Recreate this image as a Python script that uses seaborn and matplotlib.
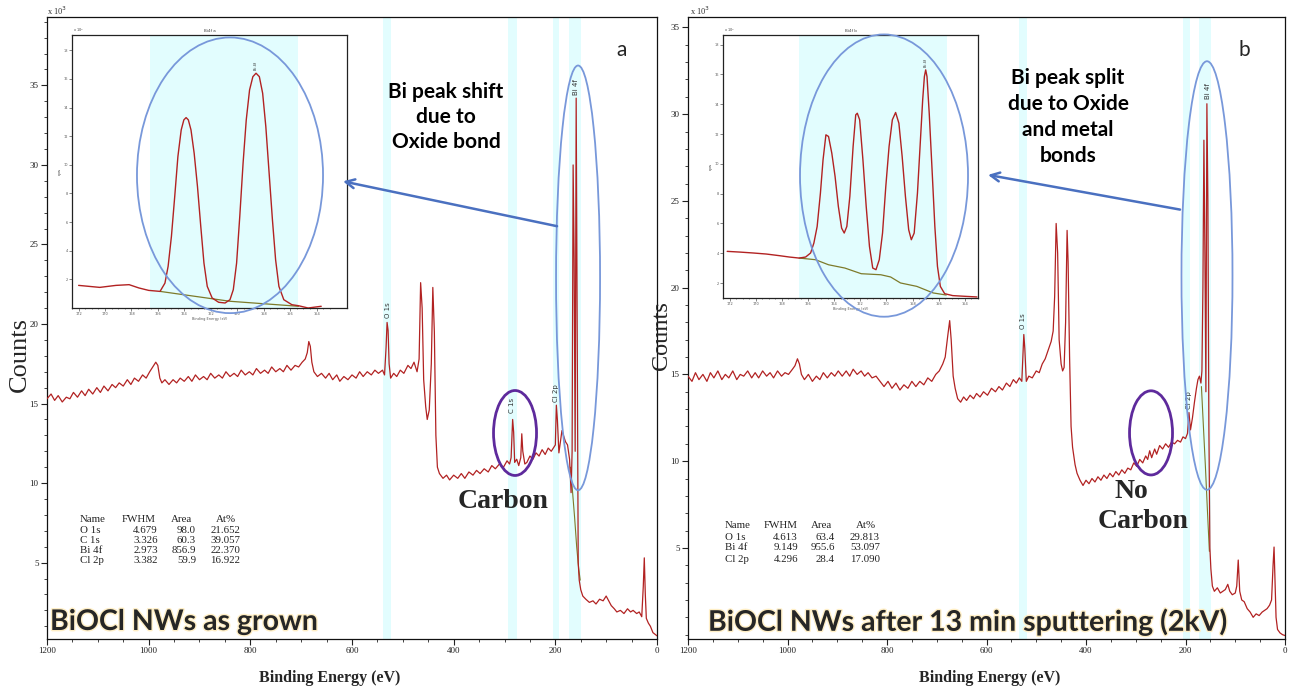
import numpy as np
import pandas as pd
import matplotlib
matplotlib.use("Agg")
import matplotlib.pyplot as plt
import matplotlib.patheffects as pe
from matplotlib.patches import Ellipse
import seaborn as sns

# ---------------- data (counts in units of 10^3) ----------------
be_a = [1200, 1192, 1185, 1178, 1170, 1162, 1155, 1148, 1140, 1132, 1125, 1118, 1110, 1102, 1095,
        1088, 1080, 1072, 1065, 1058, 1050, 1042, 1035, 1028, 1020, 1012, 1005, 998, 992, 986,
        982, 978, 974, 968, 960, 952, 945, 938, 930, 922, 915, 908, 900, 892, 885,
        878, 870, 862, 855, 848, 840, 832, 825, 818, 810, 802, 795, 788, 780, 772,
        765, 758, 750, 742, 735, 728, 720, 712, 705, 698, 692, 688, 685, 682, 679,
        675, 668, 660, 652, 645, 638, 630, 624, 616, 608, 600, 592, 585, 578, 570,
        562, 555, 548, 540, 536, 533, 531, 529, 527, 524, 518, 512, 505, 498, 490,
        484, 478, 472, 468, 465, 462, 459, 455, 452, 448, 444, 441, 438, 435, 432,
        428, 421, 414, 408, 400, 392, 385, 378, 370, 362, 355, 348, 340, 332, 325,
        318, 310, 302, 295, 290, 287, 284, 282, 280, 276, 272, 268, 266, 264, 260,
        256, 250, 244, 238, 232, 226, 220, 214, 208, 204, 200, 198, 196, 193, 190,
        187, 184, 180, 176, 172, 169, 167, 165, 163, 161, 159, 157, 155, 153, 150,
        146, 140, 133, 126, 120, 113, 106, 100, 95, 90, 84, 79, 72, 65, 58,
        52, 47, 40, 35, 30, 27, 25, 23, 21, 17, 13, 8, 4, 0]
counts_a = [15.3, 15.6, 15.2, 15.5, 15.1, 15.4, 15.3, 15.7, 15.4, 15.8, 15.5, 15.9, 15.6, 16.0, 15.7,
            16.1, 15.8, 16.2, 16.0, 16.3, 16.1, 16.5, 16.2, 16.6, 16.4, 16.8, 16.6, 17.0, 17.3, 17.6,
            17.4, 16.6, 16.3, 16.5, 16.2, 16.5, 16.3, 16.6, 16.4, 16.7, 16.4, 16.8, 16.5, 16.7, 16.5,
            16.9, 16.6, 16.8, 16.6, 17.0, 16.7, 16.9, 16.7, 17.1, 16.8, 17.0, 16.8, 17.2, 16.9, 17.1,
            16.9, 17.3, 17.0, 17.2, 17.0, 17.4, 17.1, 17.4, 17.3, 17.6, 17.8, 18.2, 18.9, 18.6, 17.6,
            17.0, 16.7, 16.9, 16.6, 16.9, 16.5, 16.8, 16.4, 16.7, 16.5, 16.8, 16.6, 17.0, 16.7, 17.0,
            16.8, 17.1, 16.9, 17.1, 16.8, 18.5, 20.1, 19.6, 17.5, 16.6, 16.9, 16.7, 17.1, 16.9, 17.4,
            17.2, 17.6, 17.0, 17.8, 22.6, 21.0, 16.5, 14.8, 14.0, 14.6, 17.5, 22.3, 19.5, 13.0, 11.0,
            10.6, 10.3, 10.5, 10.2, 10.5, 10.3, 10.6, 10.3, 10.7, 10.5, 10.8, 10.6, 10.9, 10.7, 11.1,
            10.9, 11.2, 11.0, 11.4, 11.2, 11.6, 14.0, 13.2, 11.3, 11.5, 11.1, 11.6, 13.1, 12.0, 11.2,
            11.3, 11.7, 11.5, 11.9, 11.7, 12.1, 11.8, 12.2, 12.0, 12.2, 12.4, 14.9, 14.0, 11.9, 12.6,
            13.3, 13.0, 12.6, 12.4, 11.5, 9.4, 12.0, 30.0, 24.0, 12.0, 34.2, 20.0, 5.0, 3.9, 3.3,
            2.9, 2.7, 2.5, 2.6, 2.4, 2.7, 2.6, 2.9, 2.6, 2.3, 2.1, 1.9, 2.0, 1.8, 2.1,
            1.9, 2.0, 1.8, 1.9, 1.6, 3.5, 5.3, 3.0, 1.5, 1.2, 1.0, 0.6, 0.5, 0.4]

be_b = [1200, 1192, 1185, 1178, 1170, 1162, 1155, 1148, 1140, 1132, 1125, 1118, 1110, 1102, 1095,
        1088, 1080, 1072, 1065, 1058, 1050, 1042, 1035, 1028, 1020, 1012, 1005, 998, 990, 985,
        980, 976, 972, 966, 958, 950, 942, 935, 928, 920, 912, 905, 898, 890, 882,
        875, 868, 860, 852, 845, 838, 830, 822, 814, 806, 798, 790, 782, 774, 766,
        758, 750, 742, 734, 726, 718, 710, 702, 695, 688, 683, 678, 674, 671, 667,
        663, 658, 652, 646, 640, 633, 626, 620, 613, 606, 598, 590, 582, 575, 568,
        560, 553, 546, 540, 534, 529, 527, 525, 523, 520, 515, 508, 500, 494, 488,
        482, 476, 470, 466, 463, 460, 457, 454, 450, 447, 444, 441, 438, 436, 433,
        430, 427, 422, 418, 412, 406, 400, 394, 388, 382, 376, 370, 364, 358, 352,
        346, 340, 334, 328, 322, 316, 310, 304, 298, 292, 286, 280, 276, 272, 268,
        262, 258, 252, 246, 240, 234, 228, 222, 216, 210, 205, 200, 196, 193, 190,
        186, 182, 178, 175, 172, 169, 167, 165, 163, 161, 159, 157, 155, 153, 151,
        149, 146, 142, 136, 130, 125, 120, 115, 111, 106, 100, 97, 94, 91, 87,
        82, 76, 70, 64, 58, 52, 46, 41, 36, 31, 27, 24, 22, 20, 18,
        15, 10, 5, 0]
counts_b = [14.9, 14.6, 15.1, 14.7, 15.0, 14.6, 15.1, 14.8, 15.2, 14.7, 15.0, 14.8, 15.2, 14.7, 15.0,
            14.9, 15.2, 14.8, 15.1, 14.8, 15.2, 14.9, 15.1, 14.8, 15.2, 14.9, 15.1, 15.0, 15.3, 15.5,
            15.9, 15.6, 15.0, 14.7, 15.0, 14.6, 14.9, 14.7, 15.1, 14.8, 15.1, 14.9, 15.2, 14.9, 15.2,
            14.9, 15.3, 15.0, 15.2, 14.9, 15.1, 14.8, 14.9, 14.6, 14.3, 14.6, 14.2, 14.5, 14.1, 14.4,
            14.2, 14.6, 14.3, 14.6, 14.4, 14.8, 14.6, 15.0, 15.2, 15.6, 16.0, 17.2, 18.1, 17.0, 14.9,
            14.2, 13.6, 13.4, 13.7, 13.5, 13.8, 13.6, 13.9, 13.7, 14.0, 13.8, 14.2, 14.0, 14.3, 14.1,
            14.5, 14.3, 14.7, 14.5, 14.8, 14.6, 16.0, 17.3, 16.5, 14.6, 14.9, 14.8, 15.2, 15.1, 15.6,
            15.9, 16.4, 16.9, 17.5, 19.5, 23.7, 22.0, 17.0, 15.6, 15.2, 15.4, 18.0, 23.3, 21.5, 16.0,
            12.0, 10.8, 9.8, 9.3, 8.9, 8.6, 8.9, 8.7, 9.0, 8.8, 9.1, 8.9, 9.2, 9.0, 9.3,
            9.1, 9.4, 9.2, 9.5, 9.3, 9.6, 9.5, 9.9, 9.7, 10.1, 9.9, 10.3, 10.1, 10.6, 10.2,
            10.7, 10.4, 10.9, 10.7, 11.0, 10.8, 11.1, 11.0, 11.2, 11.1, 11.4, 11.3, 11.6, 12.8, 11.8,
            12.5, 13.4, 14.2, 14.7, 14.9, 14.5, 15.2, 20.0, 28.5, 22.0, 14.0, 30.6, 25.0, 12.0, 5.0,
            3.8, 2.8, 2.5, 2.7, 2.4, 2.5, 2.6, 2.9, 2.5, 2.3, 2.4, 2.8, 4.3, 2.5, 2.0,
            1.9, 1.5, 1.3, 1.0, 1.2, 1.1, 1.3, 1.4, 1.5, 1.7, 2.0, 4.0, 5.05, 3.0, 1.0,
            0.3, 0.1, 0.0, -0.05]

bg_a_be = [170, 166, 162, 158, 154, 151]
bg_a_counts = [11.0, 9.4, 7.8, 6.0, 4.6, 3.9]
bg_b_be = [168, 164, 160, 156, 152]
bg_b_counts = [14.3, 12.0, 9.7, 7.2, 4.8]

# Bi 4f high-resolution insets
inset_a_be = [172.0, 170.40, 169.17, 168.18, 167.44, 166.70, 165.84, 165.47, 165.23, 164.98,
              164.73, 164.49, 164.24, 164.04, 163.87, 163.70, 163.50, 163.26, 163.01, 162.76,
              162.52, 162.27, 161.90, 161.41, 160.92, 160.55, 160.30, 160.05, 159.81, 159.56,
              159.32, 159.07, 158.82, 158.58, 158.33, 158.08, 157.84, 157.59, 157.34, 157.10,
              156.85, 156.48, 155.87, 155.37, 154.64, 153.65]
inset_a_counts = [1.58, 1.44, 1.58, 1.63, 1.40, 1.23, 1.16, 1.74, 2.91, 5.00,
                  7.79, 10.58, 12.44, 13.14, 13.30, 13.14, 12.44, 10.81, 8.49, 5.70,
                  3.14, 1.51, 0.70, 0.40, 0.35, 0.58, 1.28, 3.14, 6.40, 10.12,
                  13.14, 15.23, 16.16, 16.40, 16.16, 15.00, 12.67, 9.42, 6.16, 3.37,
                  1.51, 0.58, 0.23, 0.16, 0.0, 0.12]
inset_a_bg_be = [165.84, 160.55, 155.37]
inset_a_bg_counts = [1.16, 0.47, 0.12]

inset_b_be = [172.18, 171.18, 170.18, 169.18, 168.18, 167.43, 166.68, 166.18, 165.80, 165.55,
              165.30, 165.05, 164.85, 164.63, 164.43, 164.18, 163.93, 163.68, 163.43, 163.23,
              163.03, 162.80, 162.55, 162.35, 162.23, 162.05, 161.80, 161.55, 161.30, 161.05,
              160.80, 160.55, 160.30, 160.05, 159.80, 159.55, 159.30, 159.05, 158.80, 158.55,
              158.30, 158.10, 157.88, 157.63, 157.43, 157.23, 157.10, 157.00, 156.90, 156.73,
              156.50, 156.30, 156.10, 155.88, 155.55, 154.93, 153.93, 153.08]
inset_b_counts = [4.13, 4.08, 4.02, 3.95, 3.84, 3.75, 3.68, 3.75, 4.02, 4.69,
                  5.80, 8.04, 10.27, 11.95, 11.84, 10.72, 9.16, 7.15, 5.69, 5.36,
                  5.80, 7.82, 11.17, 13.29, 13.40, 12.96, 10.27, 7.15, 4.46, 3.01,
                  2.90, 3.57, 5.36, 8.49, 11.17, 12.96, 13.45, 12.73, 10.50, 7.82,
                  5.58, 4.91, 5.36, 8.04, 11.17, 14.30, 15.86, 16.31, 15.86, 13.40,
                  9.38, 5.80, 3.12, 1.78, 1.29, 1.16, 1.11, 1.07]
inset_b_bg_be = [166.68, 165.43, 164.43, 163.18, 161.93, 160.43, 159.68, 158.93, 157.68, 156.43, 155.43]
inset_b_bg_counts = [3.68, 3.57, 3.23, 3.01, 2.63, 2.56, 2.41, 2.01, 1.78, 1.34, 1.20]

# fitted regions (shaded)
bands_a = [(539, 523), (293, 275), (204, 193), (173, 149)]
bands_b = [(535, 519), (205, 191), (173, 149)]

x_ticks = [1200, 1000, 800, 600, 400, 200, 0]
y_ticks = [5, 10, 15, 20, 25, 30, 35]

table_header = ["Name", "FWHM", "Area", "At%"]
table_a = [["O 1s", "4.679", "98.0", "21.652"],
           ["C 1s", "3.326", "60.3", "39.057"],
           ["Bi 4f", "2.973", "856.9", "22.370"],
           ["Cl 2p", "3.382", "59.9", "16.922"]]
table_b = [["O 1s", "4.613", "63.4", "29.813"],
           ["Bi 4f", "9.149", "955.6", "53.097"],
           ["Cl 2p", "4.296", "28.4", "17.090"]]

# ---------------- style ----------------
sns.set_style("ticks")
plt.rcParams['font.family'] = ['DejaVu Sans']

RED = "#B22222"
OLIVE = "#7D7A2A"
BAND = "#E2FDFE"
BLUE = "#7898DA"
ARROW = "#4A70C0"
PURPLE = "#5E2A9C"
SERIF = "Liberation Serif"
SANS = "Lato"

W, H = 1290, 688
fig = plt.figure(figsize=(12.9, 6.88), dpi=100)
fig.patch.set_facecolor("white")


def fpos(x, y):
    return x / W, 1 - y / H


def ftext(x, y, s, **kw):
    fx, fy = fpos(x, y)
    fig.text(fx, fy, s, **kw)


axL = fig.add_axes([47 / W, 1 - 639 / H, (657 - 47) / W, (639 - 17) / H])
axR = fig.add_axes([688 / W, 1 - 639 / H, (1285 - 688) / W, (639 - 17) / H])


def draw_main(ax, be, counts, bg_be, bg_counts, bands, ylim, minor_y):
    for lo, hi in bands:
        ax.axvspan(hi, lo, color=BAND, zorder=0, lw=0)
    df = pd.DataFrame({"BE": be, "counts": counts})
    sns.lineplot(data=df, x="BE", y="counts", sort=False, estimator=None,
                 color=RED, lw=0.9, ax=ax, zorder=3)
    dfb = pd.DataFrame({"BE": bg_be, "counts": bg_counts})
    sns.lineplot(data=dfb, x="BE", y="counts", sort=False, estimator=None,
                 color=OLIVE, lw=0.8, ax=ax, zorder=2)
    ax.set_xlim(1200, 0)
    ax.set_ylim(*ylim)
    ax.set_xticks(x_ticks)
    ax.set_xticklabels([str(t) for t in x_ticks])
    ax.set_xticks(np.arange(0, 1201, 50), minor=True)
    ax.set_yticks(y_ticks)
    ax.set_yticklabels([str(t) for t in y_ticks])
    ax.set_yticks(minor_y, minor=True)
    ax.tick_params(axis="both", which="major", direction="out", length=4, width=0.8,
                   labelsize=6.5, colors="#222222", pad=2)
    ax.tick_params(axis="both", which="minor", direction="out", length=2.5, width=0.6)
    for lbl in ax.get_xticklabels() + ax.get_yticklabels():
        lbl.set_family(SERIF)
    ax.set_xlabel("")
    ax.set_ylabel("")
    for sp in ax.spines.values():
        sp.set_visible(True)
        sp.set_color("#111111")
        sp.set_linewidth(0.9)
    ax.set_facecolor("white")


draw_main(axL, be_a, counts_a, bg_a_be, bg_a_counts, bands_a, (0.2, 39.3), np.arange(1, 40, 1))
draw_main(axR, be_b, counts_b, bg_b_be, bg_b_counts, bands_b, (-0.25, 35.6), np.arange(0, 36, 1))

# peak labels
pk = dict(rotation=90, ha="center", va="bottom", fontsize=5, color="#333333")
axL.text(529, 20.4, "O 1s", **pk)
axL.text(285, 14.4, "C 1s", **pk)
axL.text(198.6, 15.1, "Cl 2p", **pk)
axL.text(159, 34.4, "Bi 4f", **pk)
axR.text(527, 17.6, "O 1s", **pk)
axR.text(193, 13.0, "Cl 2p", **pk)
axR.text(155, 30.9, "Bi 4f", **pk)

# ellipses on the survey spectra
axL.add_patch(Ellipse((155.3, 22.9), 86.6, 26.7, fill=False, ec=BLUE, lw=1.3, zorder=5))
axL.add_patch(Ellipse((279.3, 13.15), 84.6, 5.34, fill=False, ec=PURPLE, lw=2.0, zorder=5))
axR.add_patch(Ellipse((156.8, 20.7), 102.5, 24.7, fill=False, ec=BLUE, lw=1.3, zorder=5))
axR.add_patch(Ellipse((269.3, 11.63), 86.4, 4.85, fill=False, ec=PURPLE, lw=2.0, zorder=5))


# ---------------- insets ----------------
def draw_inset(rect, be, counts, bg_be, bg_counts, xlim, ylim, band):
    ax = fig.add_axes(rect)
    ax.set_facecolor("white")
    ax.axvspan(band[0], band[1], color=BAND, zorder=0, lw=0)
    df = pd.DataFrame({"BE": be, "counts": counts})
    sns.lineplot(data=df, x="BE", y="counts", sort=False, estimator=None,
                 color=RED, lw=1.0, ax=ax, zorder=3)
    dfb = pd.DataFrame({"BE": bg_be, "counts": bg_counts})
    sns.lineplot(data=dfb, x="BE", y="counts", sort=False, estimator=None,
                 color=OLIVE, lw=0.9, ax=ax, zorder=2)
    ax.set_xlim(*xlim)
    ax.set_ylim(*ylim)
    ax.set_xticks(np.arange(154, 173, 2))
    ax.set_xticks(np.arange(153, 173, 0.5), minor=True)
    ax.set_yticks(np.arange(2, 19, 2))
    ax.tick_params(axis="both", which="major", direction="out", length=2, width=0.5,
                   labelsize=2.5, colors="#555555", pad=1)
    ax.tick_params(axis="both", which="minor", direction="out", length=1, width=0.4)
    ax.set_xlabel("Binding Energy (eV)", fontsize=2.5, labelpad=0.5, color="#555555")
    ax.set_ylabel("cps", fontsize=3, labelpad=1, color="#333333")
    for sp in ax.spines.values():
        sp.set_visible(True)
        sp.set_color("#222222")
        sp.set_linewidth(0.9)
    return ax


inL = draw_inset([72 / W, 1 - 308 / H, 275 / W, 273 / H], inset_a_be, inset_a_counts,
                 inset_a_bg_be, inset_a_bg_counts, (172.0, 151.7), (0, 19.07), (166.6, 155.4))
inR = draw_inset([723 / W, 1 - 298 / H, 255 / W, 263 / H], inset_b_be, inset_b_counts,
                 inset_b_bg_be, inset_b_bg_counts, (172.18, 153.08), (1.0, 18.65), (166.7, 155.4))
inL.text(158.6, 16.6, "Bi 4f", rotation=90, fontsize=2.5, ha="center", va="bottom")
inR.text(157.0, 16.5, "Bi 4f", rotation=90, fontsize=2.5, ha="center", va="bottom")
inL.set_title("Bi4f a", fontsize=3, pad=2, color="#444444")
inR.set_title("Bi4f b", fontsize=3, pad=2, color="#444444")
ftext(73, 32, r"x 10$^3$", fontsize=2.5, color="#444444")
ftext(724, 32, r"x 10$^3$", fontsize=2.5, color="#444444")

# big ellipses around the insets + arrows (drawn above the insets)
inL.add_patch(Ellipse((840, 29.35), 366, 17.33, transform=axL.transData, fill=False,
                      ec=BLUE, lw=1.3, clip_on=False, zorder=6))
inR.add_patch(Ellipse((806, 26.46), 337.7, 16.27, transform=axR.transData, fill=False,
                      ec=BLUE, lw=1.3, clip_on=False, zorder=6))
inL.annotate("", xy=(617.7, 28.97), xycoords=axL.transData, xytext=(196.7, 26.15),
             textcoords=axL.transData, annotation_clip=False,
             arrowprops=dict(arrowstyle="->", color=ARROW, lw=1.8, mutation_scale=16,
                             shrinkA=0, shrinkB=0))
inR.annotate("", xy=(597, 26.5), xycoords=axR.transData, xytext=(211, 24.5),
             textcoords=axR.transData, annotation_clip=False,
             arrowprops=dict(arrowstyle="->", color=ARROW, lw=1.8, mutation_scale=16,
                             shrinkA=0, shrinkB=0))

# ---------------- texts ----------------
bold_sans = dict(family=SANS, weight="bold", fontsize=15, ha="center", va="center", color="black")
for i, line in enumerate(["Bi peak shift", "due to", "Oxide bond"]):
    ftext(446, 92 + 25 * i, line, **bold_sans)
for i, line in enumerate(["Bi peak split", "due to Oxide", "and metal", "bonds"]):
    ftext(1068, 78 + 26 * i, line, **bold_sans)

ftext(622, 50, "a", family=SANS, fontsize=15, ha="center", va="center")
ftext(1244, 50, "b", family=SANS, fontsize=15, ha="center", va="center")

serif_bold = dict(family=SERIF, weight="bold", fontsize=20, ha="center", va="center")
ftext(503, 502, "Carbon", **serif_bold)
ftext(1131, 492, "No", **serif_bold)
ftext(1143, 522, "Carbon", **serif_bold)

glow = [pe.withStroke(linewidth=2, foreground="#FFEFC6")]
ftext(50, 622, "BiOCl NWs as grown", family=SANS, weight="bold", fontsize=20.5,
      ha="left", va="center", path_effects=glow)
ftext(708, 622, "BiOCl NWs after 13 min sputtering (2kV)", family=SANS, weight="bold",
      fontsize=20.5, ha="left", va="center", path_effects=glow)

ftext(330, 678, "Binding Energy (eV)", family=SERIF, weight="bold", fontsize=11.5,
      ha="center", va="center")
ftext(990, 678, "Binding Energy (eV)", family=SERIF, weight="bold", fontsize=11.5,
      ha="center", va="center")
ftext(20, 355, "Counts", family=SERIF, fontsize=19, rotation=90, ha="center", va="center")
ftext(661, 336, "Counts", family=SERIF, fontsize=17.5, rotation=90, ha="center", va="center")
ftext(47, 11, r"x 10$^3$", family=SERIF, fontsize=6, ha="left", va="center", color="#333333")
ftext(690, 11, r"x 10$^3$", family=SERIF, fontsize=6, ha="left", va="center", color="#333333")


# ---------------- tables ----------------
def draw_table(x_name, cols, y0, dy, rows, size):
    tk = dict(family=SERIF, fontsize=size, va="center", color="#222222")
    ftext(x_name, y0, table_header[0], ha="left", **tk)
    for (cx, rx), h in zip(cols, table_header[1:]):
        ftext(cx, y0, h, ha="center", **tk)
    for r, row in enumerate(rows):
        y = y0 + dy * (r + 1)
        ftext(x_name, y, row[0], ha="left", **tk)
        for (cx, rx), v in zip(cols, row[1:]):
            ftext(rx, y, v, ha="right", **tk)


draw_table(80, [(139, 158), (182, 196), (226, 240)], 520, 10.2, table_a, 7.8)
draw_table(725, [(781, 798), (822, 835), (866, 880)], 526, 11.0, table_b, 7.8)

fig.savefig("out.png", dpi=100, facecolor="white")
